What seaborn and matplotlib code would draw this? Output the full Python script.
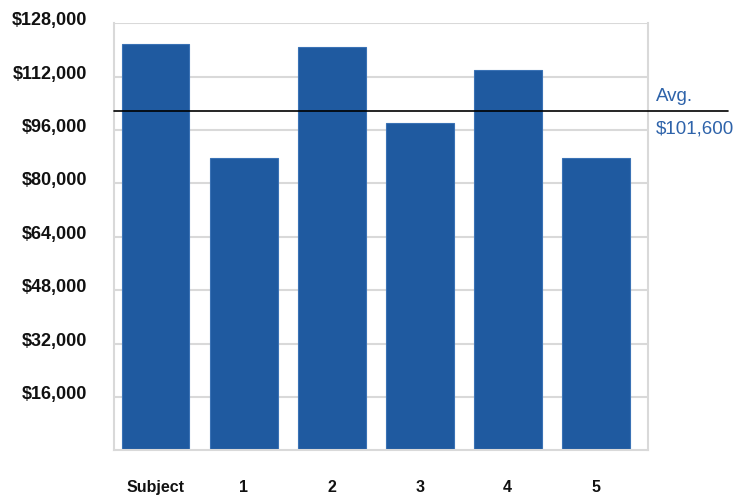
import matplotlib
matplotlib.use("Agg")
import matplotlib.pyplot as plt
import matplotlib.transforms as mtransforms
import seaborn as sns
import pandas as pd
from matplotlib.ticker import FuncFormatter

categories = ["Subject", "1", "2", "3", "4", "5"]
values = [121800, 87500, 121000, 98000, 114000, 87500]
avg_value = 101600
avg_label = "Avg."
avg_text = "$101,600"
y_ticks = [16000, 32000, 48000, 64000, 80000, 96000, 112000, 128000]

df = pd.DataFrame({"cat": categories, "val": values})

sns.set_theme(style="white")
plt.rcParams["font.family"] = ["Liberation Sans", "DejaVu Sans"]

bar_color = "#1F5AA0"
text_blue = "#2E63AA"
grid_color = "#D9D9D9"

fig = plt.figure(figsize=(7.35, 4.97), dpi=100)
left_px, right_px = 114, 648
ax = fig.add_axes([left_px / 735, 0.0938, (right_px - left_px) / 735, 0.8593])

sns.barplot(data=df, x="cat", y="val", color=bar_color, saturation=1,
            width=0.77, edgecolor="#3A72B5", linewidth=0.8, ax=ax, zorder=2)

ax.set_ylim(0, 128000)
ax.set_xlim(-0.472, 5.593)
ax.set_yticks(y_ticks)
ax.yaxis.set_major_formatter(FuncFormatter(lambda v, p: f"${v:,.0f}"))
ax.grid(axis="y", color=grid_color, linewidth=1.5, zorder=0)
ax.set_axisbelow(True)
ax.set_xlabel("")
ax.set_ylabel("")

for s in ["left", "right", "bottom"]:
    ax.spines[s].set_visible(True)
    ax.spines[s].set_color(grid_color)
    ax.spines[s].set_linewidth(1.5)
ax.spines["top"].set_visible(False)

ax.tick_params(axis="y", length=0, pad=19, labelsize=13, labelcolor="#111111")
ax.tick_params(axis="x", length=0, pad=21, labelsize=11.5, labelcolor="#111111")
offset = mtransforms.ScaledTranslation(0, 4.5 / 100, fig.dpi_scale_trans)
for lbl in ax.get_yticklabels():
    lbl.set_fontweight("bold")
    lbl.set_transform(lbl.get_transform() + offset)
for lbl in ax.get_xticklabels():
    lbl.set_fontweight("bold")

# average line extends beyond plot area
trans = ax.get_yaxis_transform()
line_end = (727.7 - left_px) / (right_px - left_px)
ax.plot([0, line_end], [avg_value, avg_value], color="black", linewidth=1.2,
        clip_on=False, zorder=4, transform=trans)
tx = (656 - left_px) / (right_px - left_px)
ax.text(tx, avg_value + 1900, avg_label, color=text_blue, fontsize=13.5,
        ha="left", va="bottom", transform=trans)
ax.text(tx, avg_value - 2700, avg_text, color=text_blue, fontsize=13.5,
        ha="left", va="top", transform=trans)

fig.savefig("out.png", dpi=100)
